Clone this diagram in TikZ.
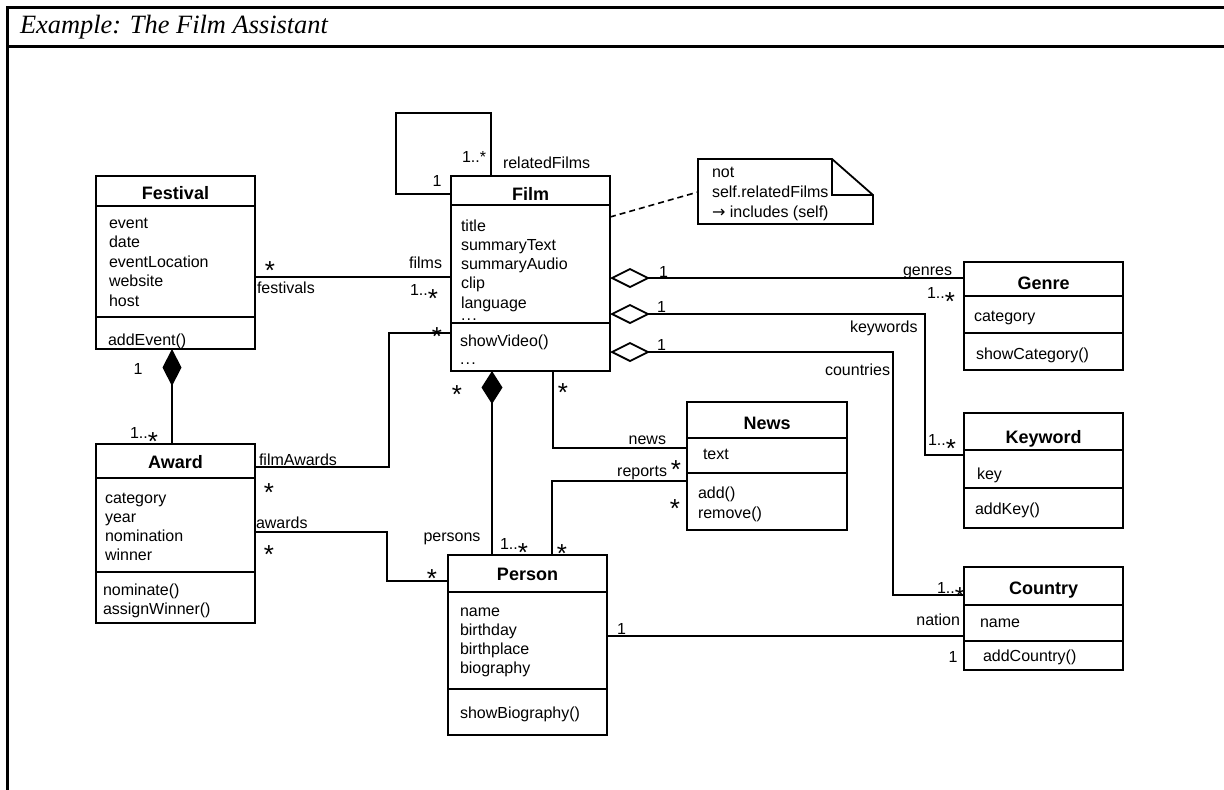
\documentclass[tikz,border=0pt]{standalone}
\usepackage{fontspec}
\setmainfont{Liberation Sans}
\newfontfamily\titlefont{Liberation Serif}
\newfontfamily\symfont{DejaVu Sans}
\usetikzlibrary{fit,arrows.meta}

% multiplicity star, set large and lowered onto the baseline
\newcommand\mstar{\raisebox{-6pt}[0pt][0pt]{\fontsize{13}{13}\selectfont *}}

% UML class: name, x1, y1, x2, y2, first rule, second rule, title baseline, title
\newcommand\umlclass[9]{%
  \path (#2,#3) coordinate (#1-nw) (#4,#5) coordinate (#1-se);
  \node[classbox, fit=(#1-nw)(#1-se)] (#1) {};
  \draw[classline] (#2,#6) -- (#4,#6);
  \draw[classline] (#2,#7) -- (#4,#7);
  \node[classname, anchor=base] (#1-name) at ({(#2+#4)/2},#8) {#9};
}

% stacked text lines: name prefix, x, first baseline, line step, entries
\newcommand\textlines[5]{%
  \foreach \myline [count=\i] in {#5}
    \node[anchor=base west] (#1\i) at (#2,{#3+#4*(\i-1)}) {\myline};
}

\begin{document}
\begin{tikzpicture}[x=0.5pt,y=-0.5pt,
  every node/.style={inner sep=0pt, outer sep=0pt, font=\fontsize{8}{9.6}\selectfont},
  classbox/.style={draw, line width=0.9pt, inner sep=0pt},
  classline/.style={line width=0.9pt},
  classname/.style={font=\bfseries\fontsize{9}{10.8}\selectfont},
  assoc/.style={line width=0.9pt},
  agg/.style={assoc, {Diamond[open,length=20pt,width=10pt]}-},
  lbl/.style={anchor=base}]

\useasboundingbox (0,0) rectangle (1224,789);

% frame with heading
\draw[line width=1.5pt] (7,800) -- (7,7) -- (1240,7);
\draw[line width=1.5pt] (7,46) -- (1240,46);
\node[anchor=base west, font=\titlefont\itshape\fontsize{13.2}{15}\selectfont] (frametitle) at (20,33) {Example: The Film Assistant};

% classes
\umlclass{festival}{96}{176}{255}{349}{206}{317}{199}{Festival}
\textlines{festival-a}{109}{228}{19.5}{event,date,eventLocation,website,host}
\textlines{festival-o}{108}{345}{19.5}{addEvent()}

\umlclass{film}{451}{176}{610}{371}{205}{323}{200}{Film}
\textlines{film-a}{461}{231}{19.25}{title,summaryText,summaryAudio,clip,language}
\node[anchor=base west] (film-more) at (461,320) {.\kern0.6pt.\kern0.6pt.};
\textlines{film-o}{460}{346}{18}{showVideo()}
\node[anchor=base west] (film-o2) at (460,364) {.\kern0.6pt.\kern0.6pt.};

\umlclass{genre}{964}{262}{1123}{370}{296}{333}{289}{Genre}
\textlines{genre-a}{974}{321}{19.5}{category}
\textlines{genre-o}{976}{359}{19.5}{showCategory()}

\umlclass{keyword}{964}{413}{1123}{528}{450}{488}{443}{Keyword}
\textlines{keyword-a}{977}{479}{19.5}{key}
\textlines{keyword-o}{975}{514}{19.5}{addKey()}

\umlclass{country}{964}{567}{1123}{670}{605}{641}{594}{Country}
\textlines{country-a}{980}{627}{19.5}{name}
\textlines{country-o}{983}{661}{19.5}{addCountry()}

\umlclass{award}{96}{444}{255}{623}{478}{572}{468}{Award}
\textlines{award-a}{105}{503}{19}{category,year,nomination,winner}
\textlines{award-o}{103}{595}{19}{nominate(),assignWinner()}

\umlclass{news}{687}{402}{847}{530}{438}{473}{429}{News}
\textlines{news-a}{703}{459}{20}{text}
\textlines{news-o}{698}{498}{20}{add(),remove()}

\umlclass{person}{448}{555}{607}{735}{592}{689}{580}{Person}
\textlines{person-a}{460}{616}{19}{name,birthday,birthplace,biography}
\textlines{person-o}{460}{718}{19}{showBiography()}

% constraint note with folded corner
\path (698,159) coordinate (note-nw) (873,224) coordinate (note-se);
\node[fit=(note-nw)(note-se), inner sep=0pt] (note) {};
\draw[line width=0.9pt] (note.north west) -- (832,159) -- (873,195) -- (note.south east) -- (note.south west) -- cycle;
\draw[line width=0.9pt] (832,159) -- (832,195) -- (873,195);
\node[anchor=base west] (note-t1) at (712,177) {not};
\node[anchor=base west] (note-t2) at (712,197) {self.relatedFilms};
\node[anchor=base west] (note-t3) at (712,217) {{\symfont →} includes (self)};
\draw[line width=0.8pt, dash pattern=on 3pt off 2pt] (film.east |- 0,217) -- (note.west |- 0,192);

% Festival -- Film
\draw[assoc] (festival.east |- 0,277) -- (film.west |- 0,277);
\node[lbl] (fest-mult) at (270,267) {\mstar};
\node[anchor=base west] (fest-role) at (257,293) {festivals};
\node[anchor=base east] (films-role) at (442,268) {films};
\node[anchor=base west] (films-mult) at (410,295) {1..\mstar};

% Film self association
\draw[assoc] (film.north -| 491,0) -- (491,113) -- (396,113) -- (396,194) -- (film.west |- 0,194);
\node[anchor=base west] (rel-mult) at (462,162) {1..*};
\node[lbl] (rel-one) at (437,186) {1};
\node[anchor=base west] (rel-role) at (503,168) {relatedFilms};

% Film -- Genre / Keyword / Country (aggregations)
\draw[agg] (film.east |- 0,278) -- (genre.west |- 0,278);
\node[anchor=base west] (genre-one) at (659,277) {1};
\node[anchor=base east] (genre-role) at (952,275) {genres};
\node[anchor=base west] (genre-mult) at (927,298) {1..\mstar};

\draw[agg] (film.east |- 0,314) -- (925,314) -- (925,455) -- (keyword.west |- 0,455);
\node[anchor=base west] (kw-one) at (657,312) {1};
\node[anchor=base west] (kw-role) at (850,332) {keywords};
\node[anchor=base west] (kw-mult) at (928,445) {1..\mstar};

\draw[agg] (film.east |- 0,352) -- (893,352) -- (893,595) -- (country.west |- 0,595);
\node[anchor=base west] (ct-one) at (657,350) {1};
\node[anchor=base east] (ct-role) at (890,375) {countries};
\node[anchor=base west] (ct-mult) at (937,593) {1..\mstar};

% Person -- Country
\draw[assoc] (person.east |- 0,636) -- (country.west |- 0,636);
\node[anchor=base west] (nat-one) at (617,634) {1};
\node[anchor=base east] (nat-role) at (960,625) {nation};
\node[lbl] (nat-one2) at (953,662) {1};

% Film -- News
\draw[assoc] (film.south -| 553,0) -- (553,448) -- (news.west |- 0,448);
\node[lbl] (fn-mult) at (563,389) {\mstar};
\node[anchor=base east] (news-role) at (666,444) {news};
\node[lbl] (news-mult) at (676,466) {\mstar};

% News -- Person
\draw[assoc] (news.west |- 0,481) -- (552,481) -- (person.north -| 552,0);
\node[anchor=base east] (rep-role) at (667,476) {reports};
\node[lbl] (rep-mult) at (675,505) {\mstar};
\node[lbl] (rep-mult2) at (562,550) {\mstar};

% Film -- Person (composition)
\draw[assoc, {Diamond[length=16.5pt,width=10.5pt]}-] (film.south -| 492,0) -- (person.north -| 492,0);
\node[lbl] (fp-mult) at (457,391) {\mstar};
\node[lbl] (pers-role) at (452,541) {persons};
\node[anchor=base west] (pers-mult) at (500,549) {1..\mstar};

% Festival -- Award (composition)
\draw[assoc, {Diamond[length=18.5pt,width=9.5pt]}-] (festival.south -| 172,0) -- (award.north -| 172,0);
\node[lbl] (fa-one) at (138,374) {1};
\node[anchor=base west] (fa-mult) at (130,438) {1..\mstar};

% Award -- Film
\draw[assoc] (award.east |- 0,467) -- (389,467) -- (389,333) -- (film.west |- 0,333);
\node[anchor=base west] (fa-role) at (259,465) {filmAwards};
\node[lbl] (fa-mult1) at (269,489) {\mstar};
\node[lbl] (fa-mult2) at (437,333) {\mstar};

% Award -- Person
\draw[assoc] (award.east |- 0,532) -- (387,532) -- (387,581) -- (person.west |- 0,581);
\node[anchor=base west] (aw-role) at (256,528) {awards};
\node[lbl] (aw-mult1) at (269,551) {\mstar};
\node[lbl] (aw-mult2) at (432,575) {\mstar};

\end{tikzpicture}
\end{document}
